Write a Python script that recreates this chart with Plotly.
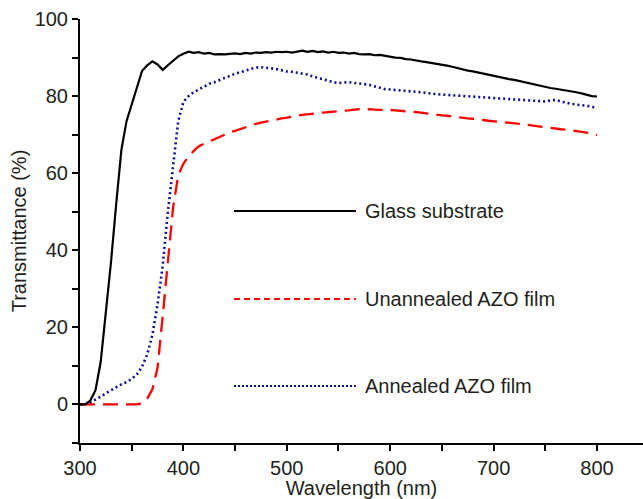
import plotly.graph_objects as go

wavelength = list(range(300, 805, 5))

glass = [0, 0, 1.0, 3.7, 11, 24, 37, 52, 66, 73.5,
         78, 82.5, 86.5, 88, 89, 88.2, 86.8, 88, 89.2, 90.3,
         91, 91.5, 91.2, 91.4, 91.0, 91.2, 90.8, 90.9, 90.8, 91.0,
         91.1, 90.9, 91.2, 91.0, 91.3, 91.2, 91.4, 91.3, 91.5, 91.4,
         91.5, 91.3, 91.6, 91.8, 91.5, 91.7, 91.4, 91.6, 91.3, 91.5,
         91.2, 91.3, 91.0, 91.2, 90.9, 90.8, 90.9, 90.6, 90.7, 90.4,
         90.3, 90.0, 89.9, 89.6, 89.5, 89.2, 89.0, 88.8, 88.6, 88.3,
         88.1, 87.9, 87.6, 87.2, 86.9, 86.6, 86.4, 86.1, 85.8, 85.6,
         85.3, 85.0, 84.7, 84.4, 84.2, 83.9, 83.6, 83.2, 83.0, 82.7,
         82.4, 82.1, 81.9, 81.7, 81.4, 81.2, 81.0, 80.7, 80.4, 80.0,
         79.9]

annealed = [0, 0, 0.5, 1.2, 2.0, 2.9, 3.7, 4.5, 5.2, 5.8,
            6.6, 7.8, 9.8, 13, 18, 26, 36, 50, 62, 73.5,
            78.5, 80, 81, 81.8, 82.5, 83.2, 83.6, 84.2, 84.6, 85.3,
            85.8, 86.2, 86.6, 87.0, 87.4, 87.5, 87.4, 87.2, 87.0, 86.6,
            86.4, 86.3, 86.1, 85.9, 85.6, 85.1, 84.8, 84.5, 84.0, 83.6,
            83.4, 83.5, 83.6, 83.4, 83.3, 83.1, 82.9, 82.5, 82.1, 81.8,
            81.7, 81.6, 81.5, 81.3, 81.2, 81.1, 81.0, 80.8, 80.6, 80.5,
            80.4, 80.3, 80.2, 80.1, 80.0, 80.0, 79.9, 79.9, 79.8, 79.6,
            79.5, 79.4, 79.3, 79.2, 79.2, 79.0, 78.9, 78.8, 78.7, 78.6,
            78.6, 78.9, 79.0, 78.6, 78.2, 78.0, 77.8, 77.7, 77.5, 77.2,
            77.0]

unannealed = [0, 0, 0, 0, 0, 0, 0, 0, 0, 0,
              0, 0, 0.3, 1.5, 3.9, 9.5, 23, 38, 51, 59.5,
              62.5, 64.3, 65.8, 67, 67.6, 68.3, 68.9, 69.4, 70.0, 70.6,
              71.0, 71.5, 72.0, 72.4, 72.8, 73.1, 73.4, 73.6, 73.9, 74.2,
              74.4, 74.7, 74.9, 75.1, 75.3, 75.4, 75.6, 75.7, 75.8, 75.9,
              76.0, 76.1, 76.3, 76.5, 76.6, 76.5, 76.6, 76.5, 76.5, 76.4,
              76.4, 76.3, 76.2, 76.1, 76.0, 75.9, 75.7, 75.5, 75.3, 75.2,
              75.0, 74.9, 74.7, 74.6, 74.4, 74.2, 74.1, 74.0, 73.8, 73.6,
              73.5, 73.3, 73.2, 73.1, 73.0, 72.8, 72.6, 72.5, 72.3, 72.1,
              71.9, 71.7, 71.6, 71.4, 71.3, 71.1, 70.9, 70.8, 70.5, 70.1,
              69.9]

series_names = ["Glass substrate", "Unannealed AZO film", "Annealed AZO film"]
x_ticks = [300, 400, 500, 600, 700, 800]
y_ticks = [0, 20, 40, 60, 80, 100]

FONT = "Liberation Sans, Arial, Helvetica, sans-serif"
TXT = "#231f20"
BLACK = "#000000"
RED = "#ff0000"
BLUE = "#0c0c96"
FS = 20

fig = go.Figure()
fig.add_trace(go.Scatter(x=wavelength, y=annealed, mode="lines", name=series_names[2],
                         line=dict(color=BLUE, width=2.6, dash="2px,3px")))
fig.add_trace(go.Scatter(x=wavelength, y=unannealed, mode="lines", name=series_names[1],
                         line=dict(color=RED, width=2.3, dash="15px,8px")))
fig.add_trace(go.Scatter(x=wavelength, y=glass, mode="lines", name=series_names[0],
                         line=dict(color=BLACK, width=2.2)))

# legend drawn as layout decoration (long sample lines like the original)
legend_rows = [(0.547, BLACK, "solid", series_names[0]),
               (0.3396, RED, "6px,4px", series_names[1]),
               (0.1344, BLUE, "2px,2px", series_names[2])]
for yy, col, dsh, name in legend_rows:
    fig.add_shape(type="line", xref="paper", yref="paper", x0=0.2735, x1=0.490, y0=yy, y1=yy,
                  line=dict(color=col, width=2, dash=dsh))
    fig.add_annotation(xref="paper", yref="paper", x=0.503, y=yy, text=name, showarrow=False,
                       xanchor="left", yanchor="middle", font=dict(family=FONT, size=FS, color=TXT))

fig.update_layout(
    width=643, height=499,
    margin=dict(l=80, r=0, t=19, b=56),
    paper_bgcolor="white", plot_bgcolor="white",
    showlegend=False,
    font=dict(family=FONT, size=FS, color=TXT),
)
fig.update_xaxes(
    range=[300, 844.5], tickvals=x_ticks, ticks="outside", ticklen=6, tickwidth=2, tickcolor="black",
    minor=dict(dtick=50, tick0=300, ticks="outside", ticklen=6, tickwidth=2, tickcolor="black"),
    showline=True, linecolor="black", linewidth=2, showgrid=False, zeroline=False,
    title=dict(text="Wavelength (nm)", font=dict(size=FS), standoff=4),
    tickfont=dict(size=FS),
)
fig.update_yaxes(
    range=[-10, 100], tickvals=y_ticks, ticks="outside", ticklen=6, tickwidth=2, tickcolor="black",
    minor=dict(dtick=10, tick0=0, ticks="outside", ticklen=6, tickwidth=2, tickcolor="black"),
    showline=True, linecolor="black", linewidth=2, showgrid=False, zeroline=False,
    title=dict(text="Transmittance (%)", font=dict(size=FS), standoff=3),
    tickfont=dict(size=FS),
)

fig.write_html("out.html")
